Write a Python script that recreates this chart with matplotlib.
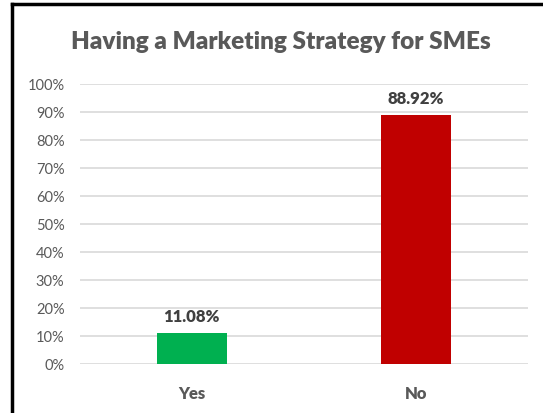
import numpy as np
import matplotlib.pyplot as plt
from matplotlib.lines import Line2D

# survey answers
answers = ['Yes', 'No']
shares = [11.08, 88.92]  # percent
bar_colors = ['#00B050', '#C00000']
yticks = np.arange(0, 101, 10)

plt.rcParams['font.family'] = ['Lato', 'DejaVu Sans']

fig = plt.figure(figsize=(5.43, 4.13), dpi=100)
ax = fig.add_axes([0.147, 0.1186, 0.825, 0.678])

x = np.arange(len(answers))
ax.bar(x, shares, width=0.31, color=bar_colors, zorder=3)

for xi, v in zip(x, shares):
    ax.text(xi, v + 3.0, f'{v:.2f}%', ha='center', va='bottom',
            fontsize=12, fontweight='heavy', color='#404040')

ax.set_xlim(-0.5, 1.5)
ax.set_ylim(0, 100)
ax.set_yticks(yticks)
ax.set_yticklabels([f'{t}%' for t in yticks], fontsize=10.5, color='#595959')
ax.set_xticks(x)
ax.set_xticklabels(answers, fontsize=12, fontweight='heavy', color='#595959')
ax.tick_params(axis='both', length=0)
ax.tick_params(axis='x', pad=16)
ax.tick_params(axis='y', pad=11)
ax.grid(axis='y', color='#D9D9D9', linewidth=1.2, zorder=0)
for s in ax.spines.values():
    s.set_visible(False)

fig.text(0.518, 0.898, 'Having a Marketing Strategy for SMEs', ha='center', va='center',
         fontsize=17.5, fontweight='heavy', color='#595959')

# frame edges on the left and top
fig.add_artist(Line2D([0.023, 0.023], [0, 0.99], transform=fig.transFigure,
                      color='black', linewidth=2.5))
fig.add_artist(Line2D([0.023, 1.0], [0.99, 0.99], transform=fig.transFigure,
                      color='black', linewidth=2.5))

fig.savefig('out.png', dpi=100)
